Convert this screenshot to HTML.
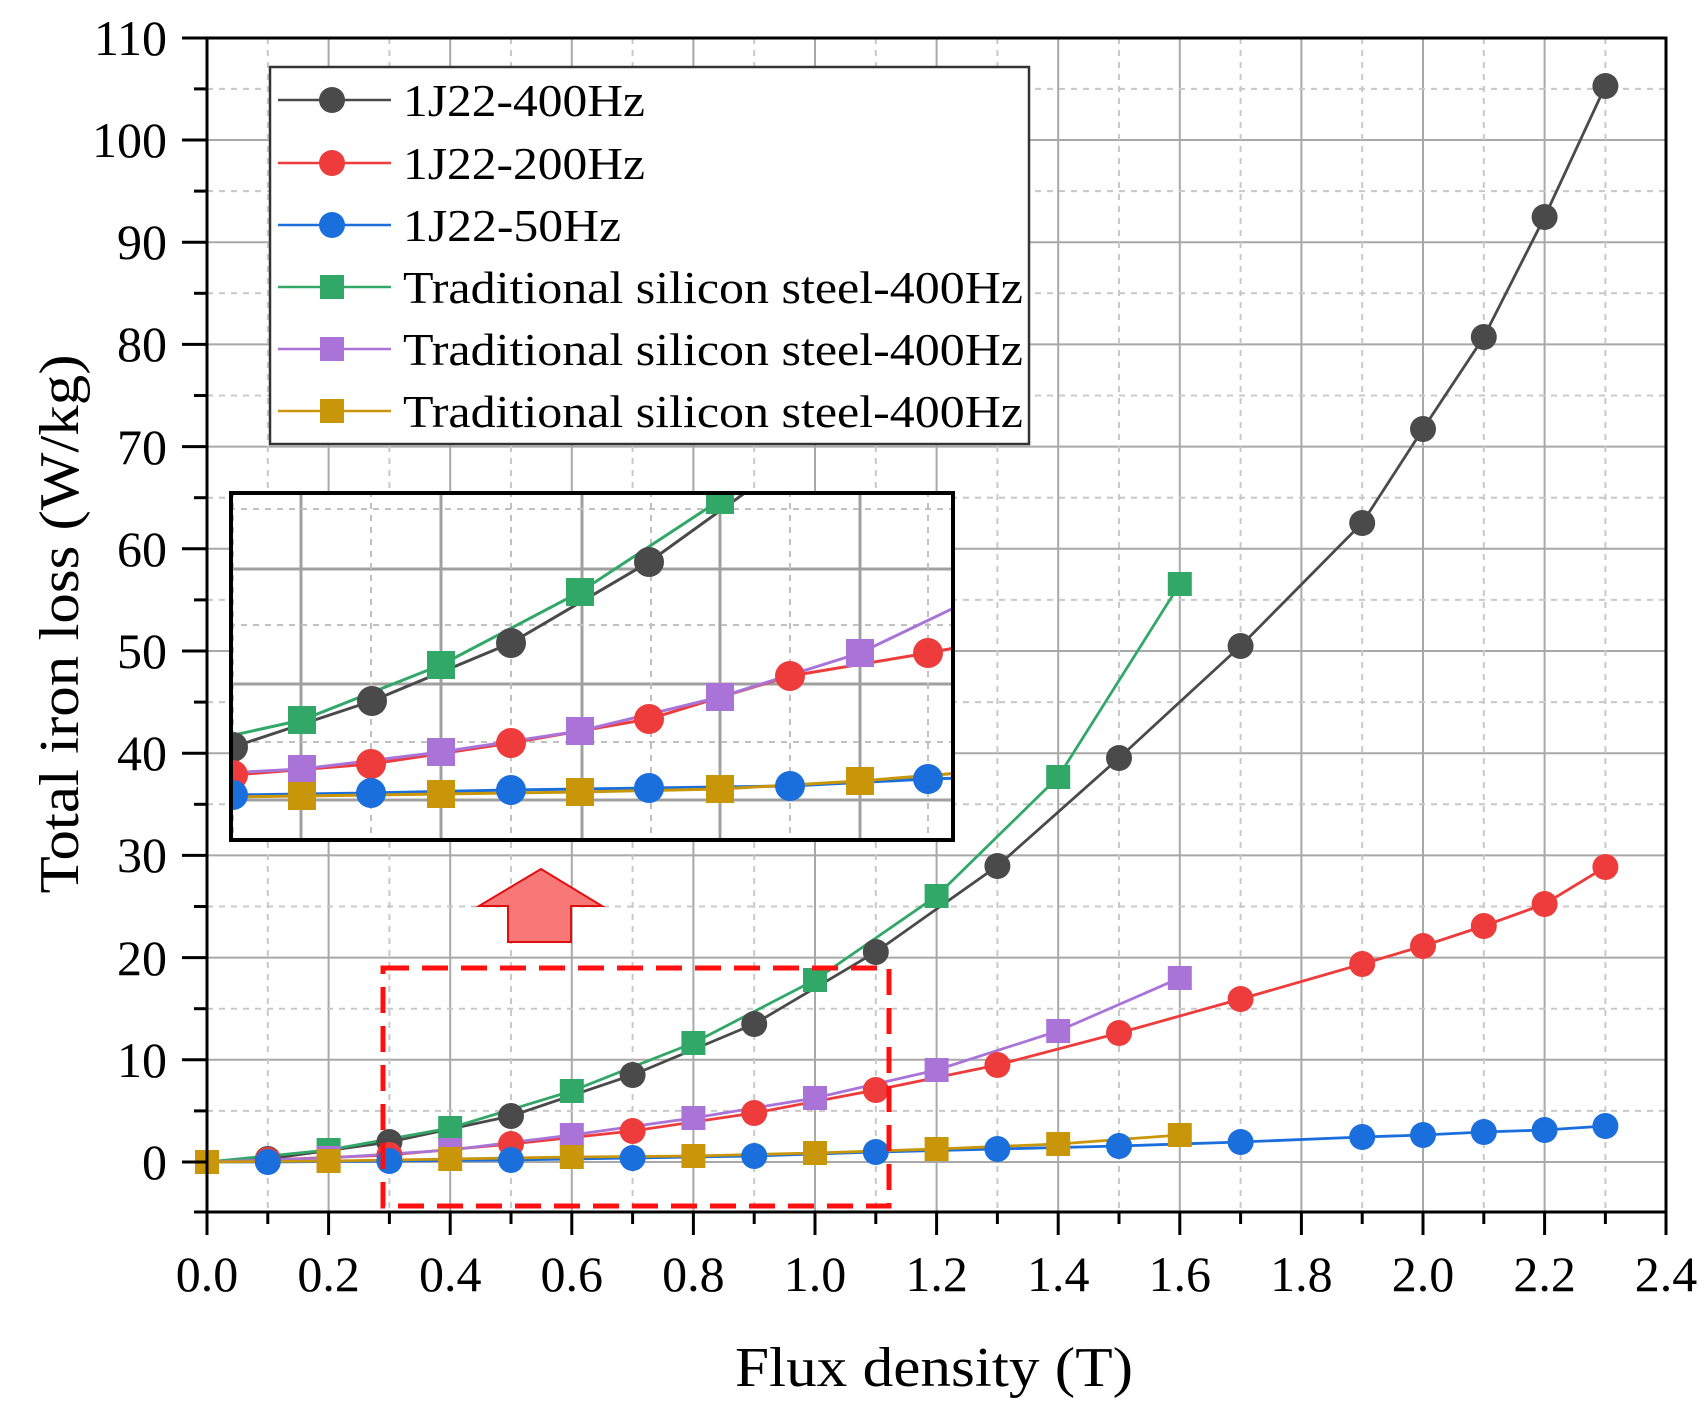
<!DOCTYPE html>
<html><head><meta charset="utf-8"><style>html,body{margin:0;padding:0;background:#fff}svg{display:block}</style></head><body>
<svg width="1708" height="1421" viewBox="0 0 1708 1421" xmlns="http://www.w3.org/2000/svg" font-family="'Liberation Serif', serif">
<defs>
<clipPath id="ci"><rect x="231" y="493" width="722" height="347"/></clipPath>
<clipPath id="cm"><rect x="207" y="38" width="1459" height="1174"/></clipPath>
</defs>
<g stroke="#a8a8a8" stroke-width="2">
<line x1="328.6" y1="38" x2="328.6" y2="1212"/><line x1="450.2" y1="38" x2="450.2" y2="1212"/><line x1="571.8" y1="38" x2="571.8" y2="1212"/><line x1="693.4" y1="38" x2="693.4" y2="1212"/><line x1="815" y1="38" x2="815" y2="1212"/><line x1="936.6" y1="38" x2="936.6" y2="1212"/><line x1="1058.2" y1="38" x2="1058.2" y2="1212"/><line x1="1179.8" y1="38" x2="1179.8" y2="1212"/><line x1="1301.4" y1="38" x2="1301.4" y2="1212"/><line x1="1423" y1="38" x2="1423" y2="1212"/><line x1="1544.6" y1="38" x2="1544.6" y2="1212"/>
<line x1="207" y1="1162" x2="1666" y2="1162"/><line x1="207" y1="1059.8" x2="1666" y2="1059.8"/><line x1="207" y1="957.6" x2="1666" y2="957.6"/><line x1="207" y1="855.4" x2="1666" y2="855.4"/><line x1="207" y1="753.2" x2="1666" y2="753.2"/><line x1="207" y1="651" x2="1666" y2="651"/><line x1="207" y1="548.8" x2="1666" y2="548.8"/><line x1="207" y1="446.6" x2="1666" y2="446.6"/><line x1="207" y1="344.4" x2="1666" y2="344.4"/><line x1="207" y1="242.2" x2="1666" y2="242.2"/><line x1="207" y1="140" x2="1666" y2="140"/>
</g>
<g stroke="#c8c8c8" stroke-width="2" stroke-dasharray="6,6">
<line x1="267.8" y1="38" x2="267.8" y2="1212"/><line x1="389.4" y1="38" x2="389.4" y2="1212"/><line x1="511" y1="38" x2="511" y2="1212"/><line x1="632.6" y1="38" x2="632.6" y2="1212"/><line x1="754.2" y1="38" x2="754.2" y2="1212"/><line x1="875.8" y1="38" x2="875.8" y2="1212"/><line x1="997.4" y1="38" x2="997.4" y2="1212"/><line x1="1119" y1="38" x2="1119" y2="1212"/><line x1="1240.6" y1="38" x2="1240.6" y2="1212"/><line x1="1362.2" y1="38" x2="1362.2" y2="1212"/><line x1="1483.8" y1="38" x2="1483.8" y2="1212"/><line x1="1605.4" y1="38" x2="1605.4" y2="1212"/>
<line x1="207" y1="1110.9" x2="1666" y2="1110.9"/><line x1="207" y1="1008.7" x2="1666" y2="1008.7"/><line x1="207" y1="906.5" x2="1666" y2="906.5"/><line x1="207" y1="804.3" x2="1666" y2="804.3"/><line x1="207" y1="702.1" x2="1666" y2="702.1"/><line x1="207" y1="599.9" x2="1666" y2="599.9"/><line x1="207" y1="497.7" x2="1666" y2="497.7"/><line x1="207" y1="395.5" x2="1666" y2="395.5"/><line x1="207" y1="293.3" x2="1666" y2="293.3"/><line x1="207" y1="191.1" x2="1666" y2="191.1"/><line x1="207" y1="88.9" x2="1666" y2="88.9"/>
</g>
<g clip-path="url(#cm)" fill="none" stroke-width="2.8">
<polyline stroke="#4a4a4a" points="207,1162 267.8,1159 389.4,1142 511,1116 632.6,1075 754.2,1024 875.8,952 997.4,866 1119,758 1240.6,646 1362.2,523 1423,429 1483.8,337 1544.6,217 1605.4,86"/>
<polyline stroke="#ee3b3b" points="207,1162 267.8,1160 389.4,1155 511,1144 632.6,1131 754.2,1113 875.8,1090 997.4,1065 1119,1033 1240.6,999 1362.2,964 1423,946 1483.8,926 1544.6,904 1605.4,867"/>
<polyline stroke="#1a6fdc" points="207,1162 267.8,1162 389.4,1161 511,1160 632.6,1158 754.2,1156 875.8,1152 997.4,1149 1119,1146 1240.6,1142 1362.2,1137 1423,1135 1483.8,1132 1544.6,1130 1605.4,1126"/>
<polyline stroke="#32a868" points="207,1162 328.6,1150 450.2,1128 571.8,1091 693.4,1043 815,980 936.6,896 1058.2,777 1179.8,584"/>
<polyline stroke="#a973d8" points="207,1162 328.6,1158 450.2,1150 571.8,1135 693.4,1118 815,1098 936.6,1070 1058.2,1031 1179.8,978"/>
<polyline stroke="#c9960a" points="207,1162 328.6,1161 450.2,1159 571.8,1157 693.4,1156 815,1153 936.6,1149 1058.2,1144 1179.8,1135"/>
</g>
<g fill="#4a4a4a"><circle cx="267.8" cy="1159" r="13"/><circle cx="389.4" cy="1142" r="13"/><circle cx="511" cy="1116" r="13"/><circle cx="632.6" cy="1075" r="13"/><circle cx="754.2" cy="1024" r="13"/><circle cx="875.8" cy="952" r="13"/><circle cx="997.4" cy="866" r="13"/><circle cx="1119" cy="758" r="13"/><circle cx="1240.6" cy="646" r="13"/><circle cx="1362.2" cy="523" r="13"/><circle cx="1423" cy="429" r="13"/><circle cx="1483.8" cy="337" r="13"/><circle cx="1544.6" cy="217" r="13"/><circle cx="1605.4" cy="86" r="13"/></g>
<g fill="#ee3b3b"><circle cx="267.8" cy="1160" r="13"/><circle cx="389.4" cy="1155" r="13"/><circle cx="511" cy="1144" r="13"/><circle cx="632.6" cy="1131" r="13"/><circle cx="754.2" cy="1113" r="13"/><circle cx="875.8" cy="1090" r="13"/><circle cx="997.4" cy="1065" r="13"/><circle cx="1119" cy="1033" r="13"/><circle cx="1240.6" cy="999" r="13"/><circle cx="1362.2" cy="964" r="13"/><circle cx="1423" cy="946" r="13"/><circle cx="1483.8" cy="926" r="13"/><circle cx="1544.6" cy="904" r="13"/><circle cx="1605.4" cy="867" r="13"/></g>
<g fill="#1a6fdc"><circle cx="267.8" cy="1162" r="13"/><circle cx="389.4" cy="1161" r="13"/><circle cx="511" cy="1160" r="13"/><circle cx="632.6" cy="1158" r="13"/><circle cx="754.2" cy="1156" r="13"/><circle cx="875.8" cy="1152" r="13"/><circle cx="997.4" cy="1149" r="13"/><circle cx="1119" cy="1146" r="13"/><circle cx="1240.6" cy="1142" r="13"/><circle cx="1362.2" cy="1137" r="13"/><circle cx="1423" cy="1135" r="13"/><circle cx="1483.8" cy="1132" r="13"/><circle cx="1544.6" cy="1130" r="13"/><circle cx="1605.4" cy="1126" r="13"/></g>
<g fill="#32a868"><rect x="316.6" y="1138" width="24" height="24"/><rect x="438.2" y="1116" width="24" height="24"/><rect x="559.8" y="1079" width="24" height="24"/><rect x="681.4" y="1031" width="24" height="24"/><rect x="803" y="968" width="24" height="24"/><rect x="924.6" y="884" width="24" height="24"/><rect x="1046.2" y="765" width="24" height="24"/><rect x="1167.8" y="572" width="24" height="24"/></g>
<g fill="#a973d8"><rect x="316.6" y="1146" width="24" height="24"/><rect x="438.2" y="1138" width="24" height="24"/><rect x="559.8" y="1123" width="24" height="24"/><rect x="681.4" y="1106" width="24" height="24"/><rect x="803" y="1086" width="24" height="24"/><rect x="924.6" y="1058" width="24" height="24"/><rect x="1046.2" y="1019" width="24" height="24"/><rect x="1167.8" y="966" width="24" height="24"/></g>
<g fill="#c9960a"><rect x="195" y="1150" width="24" height="24"/><rect x="316.6" y="1149" width="24" height="24"/><rect x="438.2" y="1147" width="24" height="24"/><rect x="559.8" y="1145" width="24" height="24"/><rect x="681.4" y="1144" width="24" height="24"/><rect x="803" y="1141" width="24" height="24"/><rect x="924.6" y="1137" width="24" height="24"/><rect x="1046.2" y="1132" width="24" height="24"/><rect x="1167.8" y="1123" width="24" height="24"/></g>
<rect x="383" y="968" width="506" height="238" fill="none" stroke="#ff1010" stroke-width="5" stroke-dasharray="26,13"/>
<polygon points="541,869 602,906 571,906 571,942 508,942 508,906 479,906" fill="#f87878" stroke="#e01010" stroke-width="2"/>
<g stroke="#000" stroke-width="3" fill="none">
<rect x="207" y="38" width="1459" height="1174"/>
<line x1="182" y1="38" x2="207" y2="38"/>
</g>
<g stroke="#000" stroke-width="3">
<line x1="207" y1="1212" x2="207" y2="1235"/><line x1="328.6" y1="1212" x2="328.6" y2="1235"/><line x1="450.2" y1="1212" x2="450.2" y2="1235"/><line x1="571.8" y1="1212" x2="571.8" y2="1235"/><line x1="693.4" y1="1212" x2="693.4" y2="1235"/><line x1="815" y1="1212" x2="815" y2="1235"/><line x1="936.6" y1="1212" x2="936.6" y2="1235"/><line x1="1058.2" y1="1212" x2="1058.2" y2="1235"/><line x1="1179.8" y1="1212" x2="1179.8" y2="1235"/><line x1="1301.4" y1="1212" x2="1301.4" y2="1235"/><line x1="1423" y1="1212" x2="1423" y2="1235"/><line x1="1544.6" y1="1212" x2="1544.6" y2="1235"/><line x1="1666" y1="1212" x2="1666" y2="1235"/>
<line x1="267.8" y1="1212" x2="267.8" y2="1224"/><line x1="389.4" y1="1212" x2="389.4" y2="1224"/><line x1="511" y1="1212" x2="511" y2="1224"/><line x1="632.6" y1="1212" x2="632.6" y2="1224"/><line x1="754.2" y1="1212" x2="754.2" y2="1224"/><line x1="875.8" y1="1212" x2="875.8" y2="1224"/><line x1="997.4" y1="1212" x2="997.4" y2="1224"/><line x1="1119" y1="1212" x2="1119" y2="1224"/><line x1="1240.6" y1="1212" x2="1240.6" y2="1224"/><line x1="1362.2" y1="1212" x2="1362.2" y2="1224"/><line x1="1483.8" y1="1212" x2="1483.8" y2="1224"/><line x1="1605.4" y1="1212" x2="1605.4" y2="1224"/>
<line x1="182" y1="1162" x2="207" y2="1162"/><line x1="182" y1="1059.8" x2="207" y2="1059.8"/><line x1="182" y1="957.6" x2="207" y2="957.6"/><line x1="182" y1="855.4" x2="207" y2="855.4"/><line x1="182" y1="753.2" x2="207" y2="753.2"/><line x1="182" y1="651" x2="207" y2="651"/><line x1="182" y1="548.8" x2="207" y2="548.8"/><line x1="182" y1="446.6" x2="207" y2="446.6"/><line x1="182" y1="344.4" x2="207" y2="344.4"/><line x1="182" y1="242.2" x2="207" y2="242.2"/><line x1="182" y1="140" x2="207" y2="140"/>
<line x1="194" y1="1212" x2="207" y2="1212"/><line x1="194" y1="1110.9" x2="207" y2="1110.9"/><line x1="194" y1="1008.7" x2="207" y2="1008.7"/><line x1="194" y1="906.5" x2="207" y2="906.5"/><line x1="194" y1="804.3" x2="207" y2="804.3"/><line x1="194" y1="702.1" x2="207" y2="702.1"/><line x1="194" y1="599.9" x2="207" y2="599.9"/><line x1="194" y1="497.7" x2="207" y2="497.7"/><line x1="194" y1="395.5" x2="207" y2="395.5"/><line x1="194" y1="293.3" x2="207" y2="293.3"/><line x1="194" y1="191.1" x2="207" y2="191.1"/><line x1="194" y1="88.9" x2="207" y2="88.9"/>
</g>
<g font-size="50" fill="#000" text-anchor="end">
<text x="167" y="1179">0</text><text x="167" y="1077">10</text><text x="167" y="975">20</text><text x="167" y="872">30</text><text x="167" y="770">40</text><text x="167" y="668">50</text><text x="167" y="566">60</text><text x="167" y="464">70</text><text x="167" y="361">80</text><text x="167" y="259">90</text><text x="167" y="157">100</text><text x="167" y="55">110</text>
</g>
<g font-size="50" fill="#000" text-anchor="middle">
<text x="207" y="1291">0.0</text><text x="328.6" y="1291">0.2</text><text x="450.2" y="1291">0.4</text><text x="571.8" y="1291">0.6</text><text x="693.4" y="1291">0.8</text><text x="815" y="1291">1.0</text><text x="936.6" y="1291">1.2</text><text x="1058.2" y="1291">1.4</text><text x="1179.8" y="1291">1.6</text><text x="1301.4" y="1291">1.8</text><text x="1423" y="1291">2.0</text><text x="1544.6" y="1291">2.2</text><text x="1666" y="1291">2.4</text>
</g>
<text x="934" y="1386" font-size="56" text-anchor="middle" textLength="398" lengthAdjust="spacingAndGlyphs">Flux density (T)</text>
<text transform="translate(78,624) rotate(-90)" font-size="56" text-anchor="middle" textLength="539" lengthAdjust="spacingAndGlyphs">Total iron loss (W/kg)</text>
<rect x="270" y="67" width="759" height="377" fill="#fff" stroke="#333" stroke-width="2.5"/>
<g stroke-width="2.5">
<line x1="278" y1="100" x2="391" y2="100" stroke="#4a4a4a"/><circle cx="332" cy="100" r="13" fill="#4a4a4a"/>
<line x1="278" y1="163" x2="391" y2="163" stroke="#ee3b3b"/><circle cx="332" cy="163" r="13" fill="#ee3b3b"/>
<line x1="278" y1="225" x2="391" y2="225" stroke="#1a6fdc"/><circle cx="332" cy="225" r="13" fill="#1a6fdc"/>
<line x1="278" y1="287" x2="391" y2="287" stroke="#32a868"/><rect x="320" y="275" width="24" height="24" fill="#32a868"/>
<line x1="278" y1="349" x2="391" y2="349" stroke="#a973d8"/><rect x="320" y="337" width="24" height="24" fill="#a973d8"/>
<line x1="278" y1="411" x2="391" y2="411" stroke="#c9960a"/><rect x="320" y="399" width="24" height="24" fill="#c9960a"/>
</g>
<g font-size="46" fill="#000">
<text x="403" y="116" textLength="242" lengthAdjust="spacingAndGlyphs">1J22-400Hz</text>
<text x="403" y="179" textLength="242" lengthAdjust="spacingAndGlyphs">1J22-200Hz</text>
<text x="403" y="241" textLength="218" lengthAdjust="spacingAndGlyphs">1J22-50Hz</text>
<text x="403" y="303" textLength="620" lengthAdjust="spacingAndGlyphs">Traditional silicon steel-400Hz</text>
<text x="403" y="365" textLength="620" lengthAdjust="spacingAndGlyphs">Traditional silicon steel-400Hz</text>
<text x="403" y="427" textLength="620" lengthAdjust="spacingAndGlyphs">Traditional silicon steel-400Hz</text>
</g>
<rect x="229" y="491" width="726" height="351" fill="#fff"/>
<g clip-path="url(#ci)">
<g stroke="#a0a0a0" stroke-width="3">
<line x1="301" y1="491" x2="301" y2="842"/><line x1="441" y1="491" x2="441" y2="842"/><line x1="582" y1="491" x2="582" y2="842"/><line x1="720" y1="491" x2="720" y2="842"/><line x1="860" y1="491" x2="860" y2="842"/>
<line x1="229" y1="569" x2="955" y2="569"/><line x1="229" y1="684" x2="955" y2="684"/><line x1="229" y1="800" x2="955" y2="800"/>
</g>
<g stroke="#c0c0c0" stroke-width="2" stroke-dasharray="6,6">
<line x1="233" y1="491" x2="233" y2="842"/><line x1="371" y1="491" x2="371" y2="842"/><line x1="511" y1="491" x2="511" y2="842"/><line x1="651" y1="491" x2="651" y2="842"/><line x1="790" y1="491" x2="790" y2="842"/><line x1="928" y1="491" x2="928" y2="842"/>
<line x1="229" y1="509" x2="955" y2="509"/><line x1="229" y1="625" x2="955" y2="625"/><line x1="229" y1="742" x2="955" y2="742"/>
</g>
<g fill="none" stroke-width="3">
<polyline stroke="#4a4a4a" points="225,750 233,747 372,701 511,643 649,562 760,482"/>
<polyline stroke="#ee3b3b" points="225,776 233,775 371,764 511,743 649,719 790,676 928,653 960,647"/>
<polyline stroke="#1a6fdc" points="225,795 233,795 371,793 511,790 649,788 790,786 928,779 960,778"/>
<polyline stroke="#32a868" points="225,737 302,720 441,665 580,592 720,500 760,474"/>
<polyline stroke="#a973d8" points="225,773 302,769 441,752 580,731 720,697 860,653 960,605"/>
<polyline stroke="#c9960a" points="225,797 302,796 441,794 580,792 720,789 860,781 960,773"/>
</g>
<g fill="#4a4a4a"><circle cx="233" cy="747" r="15"/><circle cx="372" cy="701" r="15"/><circle cx="511" cy="643" r="15"/><circle cx="649" cy="562" r="15"/></g>
<g fill="#ee3b3b"><circle cx="233" cy="775" r="15"/><circle cx="371" cy="764" r="15"/><circle cx="511" cy="743" r="15"/><circle cx="649" cy="719" r="15"/><circle cx="790" cy="676" r="15"/><circle cx="928" cy="653" r="15"/></g>
<g fill="#1a6fdc"><circle cx="233" cy="795" r="15"/><circle cx="371" cy="793" r="15"/><circle cx="511" cy="790" r="15"/><circle cx="649" cy="788" r="15"/><circle cx="790" cy="786" r="15"/><circle cx="928" cy="779" r="15"/></g>
<g fill="#32a868"><rect x="288" y="706" width="28" height="28"/><rect x="427" y="651" width="28" height="28"/><rect x="566" y="578" width="28" height="28"/><rect x="706" y="486" width="28" height="28"/></g>
<g fill="#a973d8"><rect x="288" y="755" width="28" height="28"/><rect x="427" y="738" width="28" height="28"/><rect x="566" y="717" width="28" height="28"/><rect x="706" y="683" width="28" height="28"/><rect x="846" y="639" width="28" height="28"/></g>
<g fill="#c9960a"><rect x="288" y="782" width="28" height="28"/><rect x="427" y="780" width="28" height="28"/><rect x="566" y="778" width="28" height="28"/><rect x="706" y="775" width="28" height="28"/><rect x="846" y="767" width="28" height="28"/></g>
</g>
<rect x="231" y="493" width="722" height="347" fill="none" stroke="#000" stroke-width="4"/>
</svg>
</body></html>
